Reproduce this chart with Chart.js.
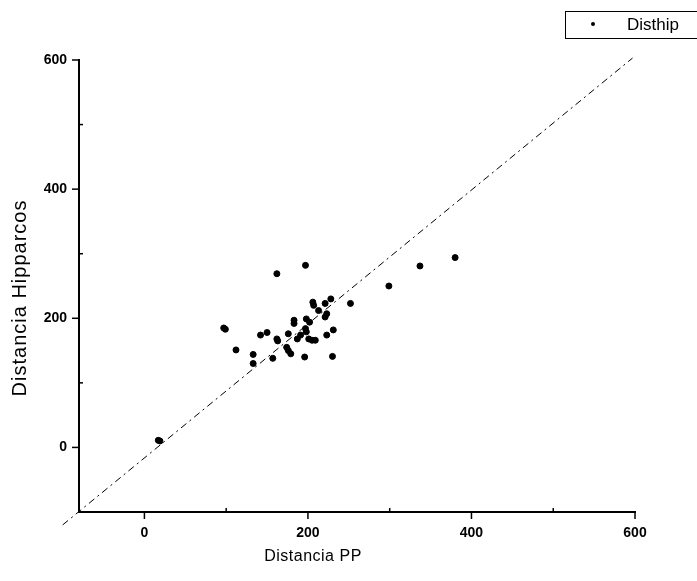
<!DOCTYPE html>
<html>
<head>
  <meta charset="utf-8">
  <title>Distancia PP vs Distancia Hipparcos</title>
  <script src="https://cdnjs.cloudflare.com/ajax/libs/Chart.js/4.4.0/chart.umd.min.js"></script>
  <style>
    body {
      margin: 0;
      background: #ffffff;
    }
    #wrap {
      width: 697px;
      height: 581px;
    }
  </style>
</head>
<body>
  <div id="wrap"><canvas id="chart"></canvas></div>

  <script>
    // datos
    const seriesName = 'Disthip';
    const xTitle = 'Distancia PP';
    const yTitle = 'Distancia Hipparcos';

    const distPP = [17, 19, 97, 99, 112, 133, 133, 142, 150, 157,
                    162, 162, 163, 174, 176, 176, 179, 183, 183, 187,
                    191, 196, 197, 198, 202, 197, 198, 201, 205, 209,
                    206, 207, 213, 221, 228, 221, 223, 223, 231, 230,
                    252, 299, 337, 380];
    const distHip = [11, 10, 185, 183, 151, 144, 130, 174, 178, 138,
                     269, 168, 165, 155, 176, 150, 145, 197, 192, 168,
                     174, 140, 282, 199, 194, 184, 179, 168, 166, 166,
                     225, 220, 212, 223, 230, 202, 207, 174, 182, 141,
                     223, 250, 281, 294];

    // recta de referencia (discontinua)
    const refX = [-100, 597];
    const refY = [-120, 603];

    const xRange = [-80, 600];
    const yRange = [-100, 600];
    const majorTicks = [0, 200, 400, 600];
    const minorTicks = [100, 300, 500];

    const points = distPP.map((x, i) => ({ x: x, y: distHip[i] }));
    const refLine = refX.map((x, i) => ({ x: x, y: refY[i] }));

    const tickFont = { family: "'Liberation Sans', Arial, sans-serif", size: 14, weight: 'bold' };

    // ticks, titulos y leyenda dibujados a mano
    const decorPlugin = {
      id: 'decor',
      afterDraw(chart) {
        const ctx = chart.ctx;
        const xs = chart.scales.x;
        const ys = chart.scales.y;
        const area = chart.chartArea;
        ctx.save();
        ctx.strokeStyle = '#000';
        ctx.lineWidth = 1.5;
        // ticks mayores hacia fuera
        majorTicks.forEach(v => {
          const px = xs.getPixelForValue(v);
          ctx.beginPath();
          ctx.moveTo(px, area.bottom);
          ctx.lineTo(px, area.bottom + 7);
          ctx.stroke();
          const py = ys.getPixelForValue(v);
          ctx.beginPath();
          ctx.moveTo(area.left, py);
          ctx.lineTo(area.left - 7, py);
          ctx.stroke();
        });
        // ticks menores hacia dentro
        minorTicks.forEach(v => {
          const px = xs.getPixelForValue(v);
          ctx.beginPath();
          ctx.moveTo(px, area.bottom);
          ctx.lineTo(px, area.bottom - 4);
          ctx.stroke();
          const py = ys.getPixelForValue(v);
          ctx.beginPath();
          ctx.moveTo(area.left, py);
          ctx.lineTo(area.left + 4, py);
          ctx.stroke();
        });

        // titulos de ejes
        ctx.fillStyle = '#000';
        ctx.textAlign = 'center';
        ctx.textBaseline = 'middle';
        ctx.font = "16px 'Liberation Sans', Arial, sans-serif";
        ctx.letterSpacing = '0.5px';
        ctx.fillText(xTitle, 313, 557);
        ctx.save();
        ctx.translate(20, 298);
        ctx.rotate(-Math.PI / 2);
        ctx.font = "20px 'Liberation Sans', Arial, sans-serif";
        ctx.letterSpacing = '1px';
        ctx.fillText(yTitle, 0, 0);
        ctx.restore();

        // leyenda
        ctx.letterSpacing = '0px';
        ctx.lineWidth = 1;
        ctx.strokeRect(565.5, 11.5, 140, 27);
        ctx.beginPath();
        ctx.arc(593, 24, 2, 0, Math.PI * 2);
        ctx.fill();
        ctx.textAlign = 'left';
        ctx.font = "17px 'Liberation Sans', Arial, sans-serif";
        ctx.fillText(seriesName, 627, 25);
        ctx.restore();
      }
    };

    const chart = new Chart(document.getElementById('chart'), {
      type: 'scatter',
      data: {
        datasets: [
          {
            label: seriesName,
            data: points,
            backgroundColor: '#000',
            borderColor: '#000',
            pointRadius: 3,
            pointStyle: 'circle'
          },
          {
            label: 'ref',
            type: 'line',
            data: refLine,
            borderColor: '#000',
            borderWidth: 1,
            borderDash: [7, 4, 2, 4],
            pointRadius: 0,
            fill: false,
            clip: false
          }
        ]
      },
      options: {
        responsive: true,
        maintainAspectRatio: false,
        animation: false,
        layout: {
          padding: { top: 60, right: 62, left: 0, bottom: 0 }
        },
        plugins: {
          legend: { display: false },
          tooltip: { enabled: false }
        },
        scales: {
          x: {
            type: 'linear',
            min: xRange[0],
            max: xRange[1],
            afterBuildTicks: s => { s.ticks = majorTicks.map(v => ({ value: v })); },
            afterFit: s => { s.height = 69; },
            grid: { display: false, drawTicks: false },
            border: { display: true, color: '#000', width: 2 },
            ticks: {
              color: '#000',
              font: tickFont,
              padding: 13,
              maxRotation: 0
            }
          },
          y: {
            type: 'linear',
            min: yRange[0],
            max: yRange[1],
            afterBuildTicks: s => { s.ticks = majorTicks.map(v => ({ value: v })); },
            afterFit: s => { s.width = 79; },
            grid: { display: false, drawTicks: false },
            border: { display: true, color: '#000', width: 2 },
            ticks: {
              color: '#000',
              font: tickFont,
              padding: 12
            }
          }
        }
      },
      plugins: [decorPlugin]
    });
  </script>
</body>
</html>
